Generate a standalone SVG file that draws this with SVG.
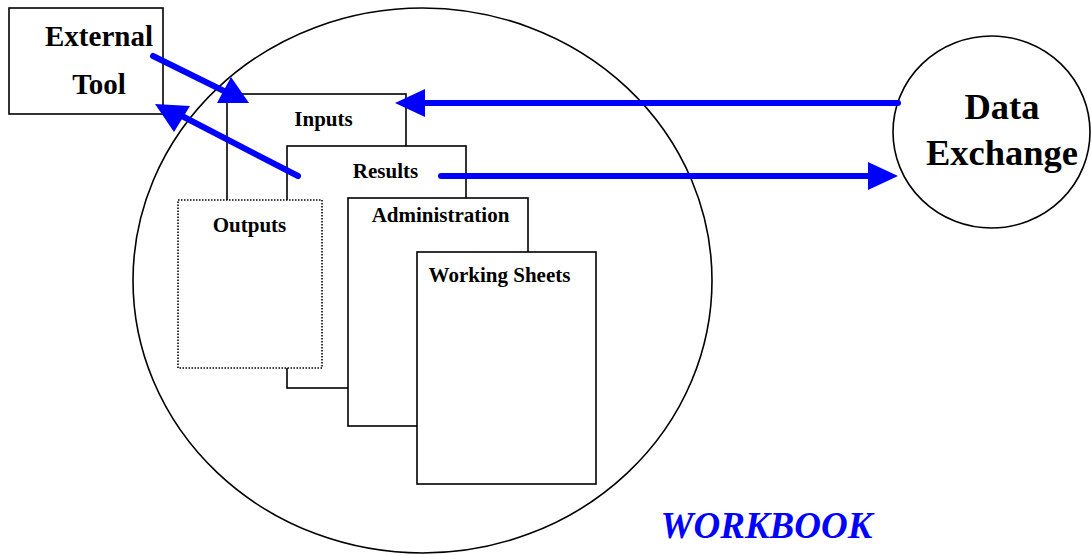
<svg xmlns="http://www.w3.org/2000/svg" width="1091" height="555" viewBox="0 0 1091 555">
<style>
.ln{fill:#fff;stroke:#000;stroke-width:1.6}
.dot{fill:#fff;stroke:#000;stroke-width:1.6;stroke-dasharray:1.5,1.5}
.t{font-family:"Liberation Serif","Times New Roman",serif;font-weight:bold;fill:#000;text-anchor:middle}
.s{font-size:21px}
.b{font-size:29px}
.c{font-size:36.5px}
.w{font-family:"Liberation Serif","Times New Roman",serif;font-weight:bold;font-style:italic;font-size:37px;fill:#0000ff;text-anchor:middle}
.ar{stroke:#0000ff;stroke-width:6;stroke-linecap:round;fill:none}
.hd{fill:#0000ff;stroke:none}
</style>
<rect width="1091" height="555" fill="#fff"/>
<g id="workbook">
<ellipse class="ln" cx="422.5" cy="280.5" rx="289.5" ry="272.5"/>
<text class="w" x="766.5" y="538">WORKBOOK</text>
</g>
<g id="external-tool">
<rect class="ln" x="9" y="8" width="154" height="106"/>
<text class="t b" x="99" y="46">External</text>
<text class="t b" x="99" y="94">Tool</text>
</g>
<g id="data-exchange">
<ellipse class="ln" cx="991.5" cy="132" rx="98.5" ry="96"/>
<text class="t c" x="1002" y="119">Data</text>
<text class="t c" x="1002" y="165">Exchange</text>
</g>
<g id="inputs">
<rect class="ln" x="227" y="94" width="179" height="242"/>
<text class="t s" x="323.5" y="126">Inputs</text>
</g>
<g id="results">
<rect class="ln" x="287" y="146" width="179" height="242"/>
<text class="t s" x="385.5" y="178">Results</text>
</g>
<g id="outputs">
<rect class="dot" x="178" y="200" width="144" height="168"/>
<text class="t s" x="249.5" y="232">Outputs</text>
</g>
<g id="administration">
<rect class="ln" x="348" y="198" width="180" height="228"/>
<text class="t s" x="440.5" y="222">Administration</text>
</g>
<g id="working-sheets">
<rect class="ln" x="417" y="252" width="179" height="232"/>
<text class="t s" x="499.5" y="282">Working Sheets</text>
</g>
<g id="connectors">
<line class="ar" x1="153" y1="56" x2="228" y2="93"/>
<polygon class="hd" points="249,103 231,77 217,103"/>
<line class="ar" x1="298" y1="176" x2="180" y2="115"/>
<polygon class="hd" points="155,104 190,106 174,132"/>
<line class="ar" x1="898" y1="103" x2="420" y2="103"/>
<polygon class="hd" points="395,103 425,89 425,117"/>
<line class="ar" x1="441" y1="176" x2="872" y2="176"/>
<polygon class="hd" points="898,176 868,162 868,190"/>
</g>
</svg>
